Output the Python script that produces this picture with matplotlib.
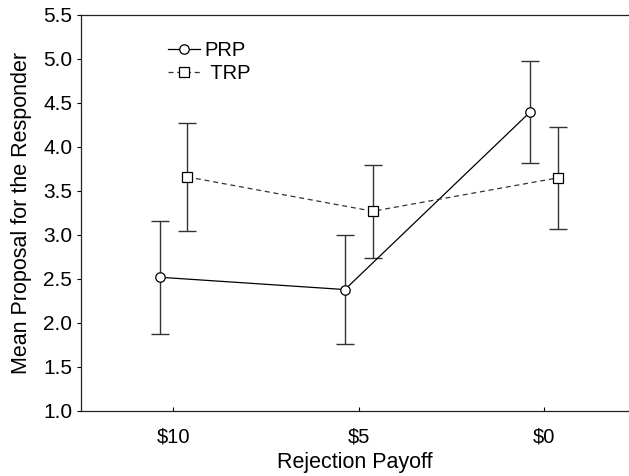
import matplotlib
matplotlib.use("Agg")
import matplotlib.pyplot as plt
import numpy as np

categories = ["$10", "$5", "$0"]
prp_mean = [2.52, 2.38, 4.40]
prp_err = [0.64, 0.62, 0.58]
trp_mean = [3.66, 3.27, 3.65]
trp_err = [0.61, 0.53, 0.58]
yticks = [1.0, 1.5, 2.0, 2.5, 3.0, 3.5, 4.0, 4.5, 5.0, 5.5]

plt.rcParams['font.family'] = ['Liberation Sans', 'DejaVu Sans']

fig = plt.figure(figsize=(6.29, 4.76), dpi=100)
ax = fig.add_axes([80.7/629, 65/476, (629-80.7)/629, 396/476])

x = np.arange(len(categories))
off = 0.075

ax.errorbar(x - off, prp_mean, yerr=prp_err, fmt='none', ecolor='#333333',
            elinewidth=1.0, capsize=6.5, capthick=1.0, zorder=2)
ax.errorbar(x + off, trp_mean, yerr=trp_err, fmt='none', ecolor='#333333',
            elinewidth=1.0, capsize=6.5, capthick=1.0, zorder=2)
ax.plot(x - off, prp_mean, color='black', lw=0.9, marker='o', ms=6.8,
        mfc='white', mec='black', mew=0.9, label='PRP', zorder=3)
ax.plot(x + off, trp_mean, color='#333333', lw=0.9, ls=(0, (4, 3)), marker='s', ms=6.8,
        mfc='white', mec='black', mew=0.9, label=' TRP', zorder=3)

ax.set_xlim(-0.5, 2.457)
ax.set_ylim(1.0, 5.5)
ax.set_xticks(x)
ax.set_xticklabels(categories)
ax.set_yticks(yticks)
ax.set_yticklabels([f"{v:.1f}" for v in yticks])
ax.tick_params(axis='x', direction='in', length=3, labelsize=14.5, pad=12)
ax.tick_params(axis='y', direction='out', length=3, labelsize=15, pad=3)
ax.spines['right'].set_visible(False)
for s in ['left', 'bottom', 'top']:
    ax.spines[s].set_linewidth(0.9)
    ax.spines[s].set_color('#222222')

ax.set_xlabel("Rejection Payoff", fontsize=15.5, labelpad=4)
ax.set_ylabel("Mean Proposal for the Responder", fontsize=15.5, labelpad=8)

leg = ax.legend(loc='upper left', bbox_to_anchor=(0.134, 0.97), frameon=False,
                fontsize=14.5, handlelength=1.6, handletextpad=0.2, labelspacing=0.2,
                borderpad=0.2)

fig.savefig("out.png", dpi=100)
